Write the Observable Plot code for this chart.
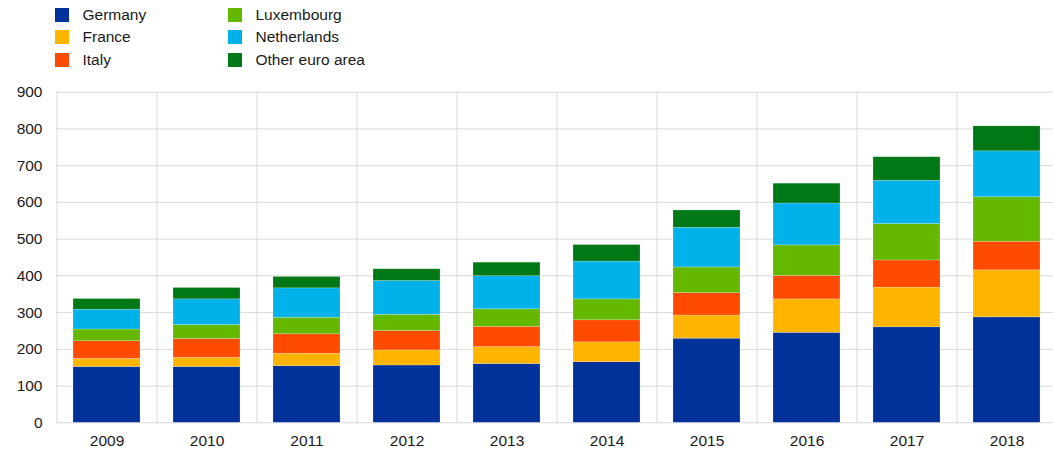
<!DOCTYPE html>
<html>
<head>
<meta charset="utf-8">
<script src="https://cdn.jsdelivr.net/npm/d3@7"></script>
<script src="https://cdn.jsdelivr.net/npm/@observablehq/plot@0.6"></script>
<style>
  html, body { margin: 0; padding: 0; background: #fff; }
  body { width: 1053px; height: 454px; overflow: hidden; font-family: "Liberation Sans", Arial, sans-serif; color: #1a1a1a; }
  #legend { position: relative; height: 78px; }
  .item { position: absolute; display: flex; align-items: center; font-size: 15.5px; line-height: 15px; }
  .sw { width: 14px; height: 14px; margin-right: 13.5px; }
</style>
</head>
<body>
<div id="legend"></div>
<div id="chart"></div>
<script>
const years = ["2009","2010","2011","2012","2013","2014","2015","2016","2017","2018"];
const seriesNames = ["Germany","France","Italy","Luxembourg","Netherlands","Other euro area"];
const colors = ["#003299","#FFB400","#FF4B00","#65B800","#00B1EA","#007816"];
const germany     = [152,152,154,156,160,165,229,245,260,287];
const france      = [ 22, 25, 34, 41, 46, 54, 63, 91,108,128];
const italy       = [ 48, 51, 53, 53, 55, 60, 61, 64, 74, 78];
const luxembourg  = [ 32, 38, 45, 44, 48, 57, 70, 83, 99,121];
const netherlands = [ 54, 70, 80, 92, 90,103,108,114,118,125];
const otherEuro   = [ 29, 31, 31, 32, 37, 45, 47, 54, 64, 68];
const yTicks = [0,100,200,300,400,500,600,700,800,900];

const seriesValues = [germany, france, italy, luxembourg, netherlands, otherEuro];
const data = [];
seriesNames.forEach((s, i) => years.forEach((y, j) => data.push({year: y, series: s, value: seriesValues[i][j]})));

// Legend
const legend = document.getElementById("legend");
const legendPos = [[55,7],[55,29],[55,52],[228,7],[228,29],[228,52]];
seriesNames.forEach((s, i) => {
  const d = document.createElement("div");
  d.className = "item";
  d.style.left = legendPos[i][0] + "px";
  d.style.top = legendPos[i][1] + "px";
  d.innerHTML = `<span class="sw" style="background:${colors[i]}"></span><span>${s}</span>`;
  legend.appendChild(d);
});

const W = 1053, ML = 56, MR = -3;
const step = (W - ML - MR) / years.length;

const chart = Plot.plot({
  width: W,
  height: 376,
  marginLeft: ML,
  marginRight: MR,
  marginTop: 13.7,
  marginBottom: 31.7,
  style: {fontFamily: "'Liberation Sans', Arial, sans-serif", fontSize: "15.5px", color: "#1a1a1a", background: "white"},
  x: {domain: years, paddingInner: 1/3, paddingOuter: 1/6, label: null},
  y: {domain: [0, 900], ticks: yTicks, label: null},
  color: {domain: seriesNames, range: colors},
  marks: [
    Plot.gridY(yTicks, {stroke: "#d9d9d9", strokeOpacity: 1, strokeWidth: 1}),
    Plot.ruleX(years, {x: d => d, dx: -step / 2, stroke: "#d9d9d9", strokeWidth: 1}),
    Plot.ruleX([years[years.length - 1]], {x: d => d, dx: step / 2, stroke: "#d9d9d9", strokeWidth: 1}),
    Plot.barY(data, Plot.stackY({order: seriesNames, x: "year", y: "value", fill: "series", stroke: "white", strokeWidth: 0.6, strokeOpacity: 0.35})),
    Plot.axisY(yTicks, {tickSize: 0, tickPadding: 14, fontSize: 15.5, fill: "#1a1a1a"}),
    Plot.axisX({tickSize: 0, tickPadding: 12.5, fontSize: 15.5, fill: "#1a1a1a"})
  ]
});
document.getElementById("chart").appendChild(chart);
</script>
</body>
</html>
